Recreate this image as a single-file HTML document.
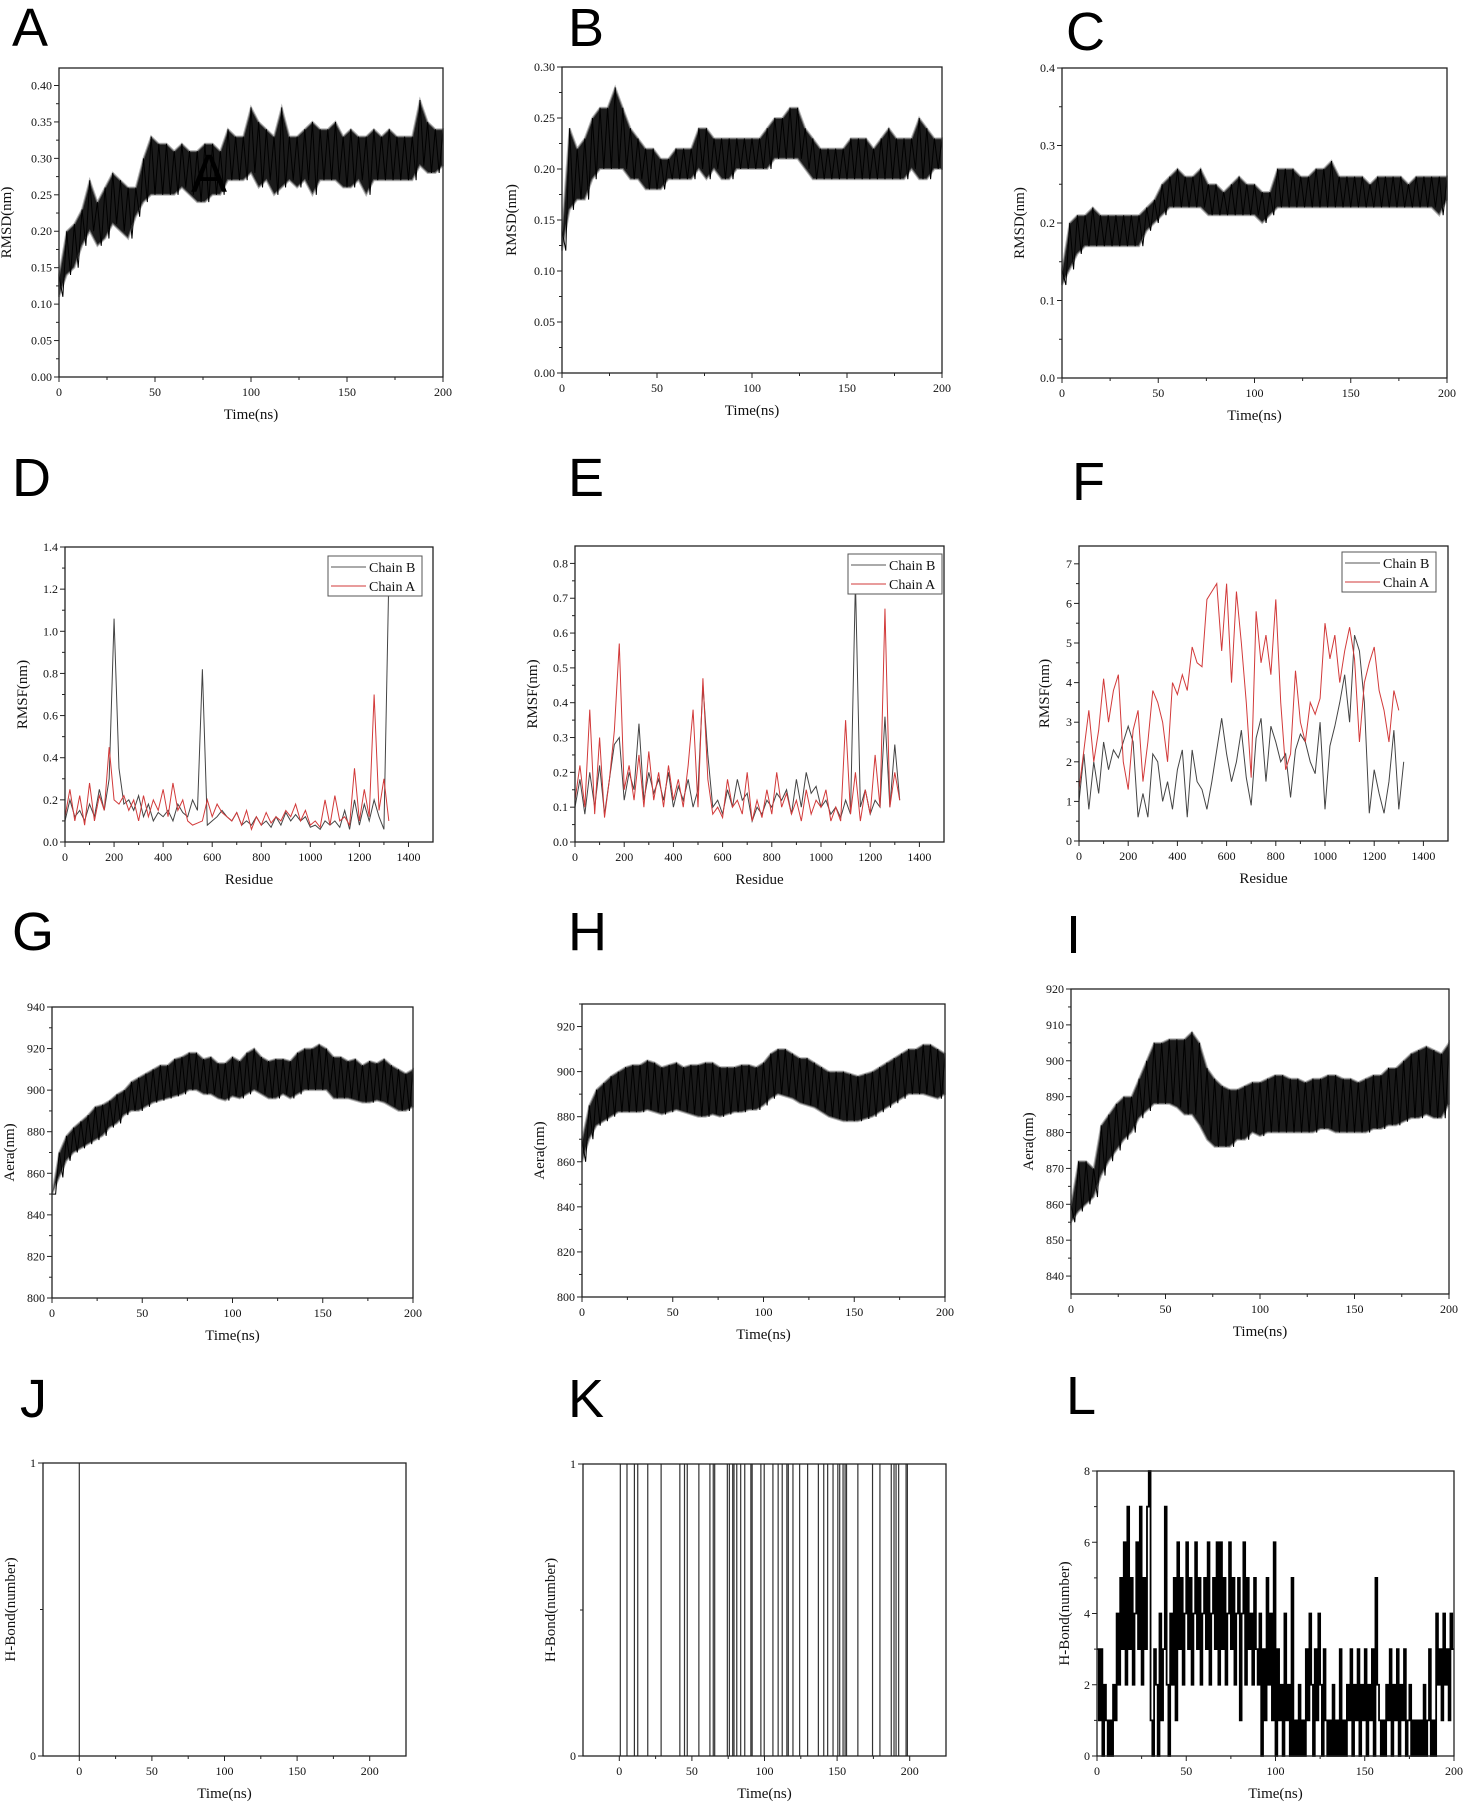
<!DOCTYPE html>
<html><head><meta charset="utf-8">
<style>
html,body{margin:0;padding:0;background:#fff;}
svg{display:block;}
.lt{font-family:"Liberation Sans",sans-serif;font-size:54px;fill:#000;}
.tk{font-family:"Liberation Serif",serif;font-size:12px;fill:#111;}
.ti{font-family:"Liberation Serif",serif;font-size:15px;fill:#111;}
.lg{font-family:"Liberation Serif",serif;font-size:14px;fill:#111;}
</style></head>
<body>
<svg id="fig" width="1469" height="1807" viewBox="0 0 1469 1807" xmlns="http://www.w3.org/2000/svg"></svg>
<script>
const timeStep = 4;
const rmsdA_hi=[0.14,0.20,0.21,0.23,0.27,0.24,0.26,0.28,0.27,0.26,0.26,0.30,0.33,0.32,0.32,0.31,0.32,0.31,0.31,0.32,0.32,0.31,0.34,0.33,0.33,0.37,0.35,0.34,0.33,0.37,0.33,0.33,0.34,0.35,0.34,0.34,0.35,0.33,0.34,0.33,0.33,0.34,0.33,0.34,0.33,0.33,0.33,0.38,0.35,0.34,0.34];
const rmsdA_lo=[0.11,0.14,0.15,0.18,0.20,0.18,0.19,0.21,0.20,0.19,0.22,0.24,0.25,0.25,0.25,0.25,0.26,0.25,0.24,0.24,0.25,0.25,0.27,0.27,0.27,0.28,0.26,0.27,0.25,0.26,0.27,0.26,0.27,0.25,0.27,0.27,0.27,0.26,0.26,0.27,0.25,0.27,0.27,0.27,0.27,0.27,0.27,0.29,0.28,0.28,0.29];
const rmsdB_hi=[0.14,0.24,0.22,0.23,0.25,0.26,0.26,0.28,0.26,0.24,0.23,0.22,0.22,0.21,0.21,0.22,0.22,0.22,0.24,0.24,0.23,0.23,0.23,0.23,0.23,0.23,0.23,0.24,0.25,0.25,0.26,0.26,0.24,0.23,0.22,0.22,0.22,0.22,0.23,0.23,0.23,0.22,0.23,0.24,0.23,0.23,0.23,0.25,0.24,0.23,0.23];
const rmsdB_lo=[0.12,0.16,0.17,0.17,0.19,0.20,0.20,0.20,0.20,0.19,0.19,0.18,0.18,0.18,0.19,0.19,0.19,0.19,0.20,0.19,0.20,0.19,0.19,0.20,0.20,0.20,0.20,0.20,0.21,0.21,0.21,0.21,0.20,0.19,0.19,0.19,0.19,0.19,0.19,0.19,0.19,0.19,0.19,0.19,0.19,0.19,0.20,0.19,0.19,0.20,0.20];
const rmsdC_hi=[0.14,0.20,0.21,0.21,0.22,0.21,0.21,0.21,0.21,0.21,0.21,0.22,0.23,0.25,0.26,0.27,0.26,0.26,0.27,0.25,0.25,0.24,0.25,0.26,0.25,0.25,0.24,0.24,0.27,0.27,0.27,0.26,0.26,0.27,0.27,0.28,0.26,0.26,0.26,0.26,0.25,0.26,0.26,0.26,0.26,0.25,0.26,0.26,0.26,0.26,0.26];
const rmsdC_lo=[0.12,0.14,0.16,0.17,0.17,0.17,0.17,0.17,0.17,0.17,0.17,0.19,0.20,0.21,0.22,0.22,0.22,0.22,0.22,0.21,0.21,0.21,0.21,0.21,0.21,0.21,0.20,0.21,0.22,0.22,0.22,0.22,0.22,0.22,0.22,0.22,0.22,0.22,0.22,0.22,0.22,0.22,0.22,0.22,0.22,0.22,0.22,0.22,0.22,0.21,0.23];
const areaG_hi=[850,870,878,882,885,888,892,893,895,898,900,904,906,908,910,912,912,915,916,918,918,915,916,913,913,916,914,918,920,916,914,915,915,914,918,920,920,922,920,916,916,914,915,912,914,913,915,912,910,908,910];
const areaG_lo=[850,858,866,870,872,874,876,878,882,884,888,890,890,892,894,895,896,897,898,900,900,898,898,896,895,897,896,898,900,898,896,896,898,896,898,900,900,900,900,896,896,896,895,894,894,895,894,892,890,890,892];
const areaH_hi=[870,885,892,895,898,900,902,903,903,905,904,902,903,904,902,903,903,904,904,902,902,902,903,903,902,904,908,910,910,908,906,906,904,902,900,900,900,899,898,899,900,902,904,906,908,910,910,912,912,910,908];
const areaH_lo=[860,870,876,878,880,882,882,882,882,883,882,881,882,883,882,881,880,880,881,880,881,882,882,883,883,885,888,890,889,888,886,885,884,882,880,879,878,878,878,879,880,882,884,886,888,890,890,890,889,888,890];
const areaI_hi=[860,872,872,870,882,885,888,890,890,895,900,905,905,906,906,906,908,905,898,895,893,892,892,893,894,894,895,896,896,895,895,894,895,895,896,896,895,895,894,895,896,896,898,898,900,902,903,904,903,902,905];
const areaI_lo=[855,858,860,862,868,872,875,878,880,884,886,888,888,888,887,885,885,882,878,876,876,876,878,878,880,879,880,880,880,880,880,880,880,881,881,880,880,880,880,880,881,881,882,882,883,884,884,885,884,884,888];
const residueStep = 20;
const rmsfD_B=[0.10,0.20,0.12,0.15,0.10,0.18,0.12,0.25,0.15,0.30,1.06,0.35,0.18,0.20,0.15,0.22,0.12,0.18,0.10,0.14,0.12,0.15,0.10,0.18,0.14,0.12,0.20,0.15,0.82,0.08,0.10,0.12,0.15,0.12,0.10,0.14,0.08,0.10,0.08,0.12,0.08,0.10,0.07,0.12,0.08,0.14,0.10,0.13,0.10,0.12,0.07,0.08,0.06,0.10,0.08,0.10,0.07,0.15,0.06,0.20,0.08,0.18,0.10,0.20,0.12,0.06,1.26];
const rmsfD_A=[0.12,0.25,0.10,0.22,0.08,0.28,0.10,0.22,0.15,0.45,0.20,0.18,0.22,0.15,0.20,0.10,0.22,0.12,0.20,0.15,0.25,0.12,0.28,0.15,0.20,0.10,0.08,0.09,0.10,0.20,0.12,0.18,0.14,0.12,0.10,0.14,0.08,0.15,0.06,0.12,0.08,0.14,0.09,0.12,0.10,0.15,0.12,0.18,0.10,0.15,0.08,0.10,0.07,0.20,0.08,0.22,0.10,0.12,0.08,0.35,0.10,0.25,0.12,0.70,0.15,0.30,0.10];
const rmsfE_B=[0.10,0.18,0.08,0.20,0.10,0.22,0.08,0.18,0.28,0.30,0.12,0.20,0.15,0.34,0.12,0.20,0.14,0.18,0.12,0.20,0.10,0.16,0.12,0.18,0.10,0.15,0.45,0.25,0.10,0.12,0.08,0.15,0.10,0.18,0.12,0.14,0.06,0.10,0.08,0.12,0.10,0.14,0.12,0.15,0.08,0.18,0.10,0.20,0.14,0.16,0.10,0.12,0.08,0.10,0.07,0.12,0.08,0.75,0.10,0.15,0.08,0.12,0.10,0.36,0.10,0.28,0.12];
const rmsfE_A=[0.12,0.22,0.10,0.38,0.08,0.30,0.07,0.18,0.32,0.57,0.15,0.22,0.12,0.25,0.10,0.26,0.12,0.20,0.10,0.22,0.12,0.18,0.10,0.22,0.38,0.10,0.47,0.18,0.08,0.10,0.07,0.18,0.10,0.12,0.08,0.20,0.06,0.12,0.07,0.15,0.08,0.20,0.10,0.14,0.08,0.12,0.06,0.15,0.08,0.12,0.10,0.15,0.06,0.10,0.06,0.35,0.08,0.20,0.06,0.15,0.08,0.25,0.10,0.67,0.10,0.20,0.12];
const rmsfF_B=[1.0,2.2,0.8,2.0,1.2,2.5,1.8,2.3,2.1,2.5,2.9,2.5,0.6,1.2,0.6,2.2,2.0,1.0,1.5,0.8,1.8,2.3,0.6,2.3,1.5,1.3,0.8,1.5,2.3,3.1,2.2,1.5,2.0,2.8,1.6,0.9,2.6,3.1,1.5,2.9,2.5,2.0,2.2,1.1,2.3,2.7,2.5,2.0,1.7,3.0,0.8,2.4,2.9,3.5,4.2,3.0,5.2,4.8,3.5,0.7,1.8,1.2,0.7,1.5,2.8,0.8,2.0];
const rmsfF_A=[1.3,2.3,3.3,2.0,2.8,4.1,3.0,3.8,4.2,2.0,1.3,2.8,3.3,1.5,2.5,3.8,3.5,3.0,2.0,4.0,3.7,4.2,3.8,4.9,4.5,4.4,6.1,6.3,6.5,4.8,6.5,4.0,6.3,5.0,3.5,1.6,5.8,4.5,5.2,4.2,6.1,3.5,1.8,2.2,4.3,3.0,2.5,3.5,3.2,3.6,5.5,4.6,5.2,4.0,4.8,5.4,4.6,2.5,4.0,4.5,4.9,3.8,3.3,2.5,3.8,3.3];
const hbJ_times=[0];
const hbK_times=[0.7,5.3,10.4,12.7,19.6,28.8,41.7,44.9,46.8,54.8,62.4,64.7,65.7,74.4,75.8,78.1,79,80.9,83.6,86.4,90.6,91.5,97.5,99.8,105.8,109.4,112.2,115.4,116.4,119.6,124.2,129.7,137.1,140.8,143.5,147.2,150.5,151.8,154.1,155.5,156.5,164.3,174.4,179.5,187.3,189.2,190.6,192.4,197.5,198.4];
const hbL_counts=[3,1,3,0,2,1,0,1,0,2, 1,4,2,5,3,6,2,7,3,5, 2,4,6,3,7,2,5,3,7,8, 1,0,3,2,0,4,1,3,7,2, 0,4,2,5,1,6,3,5,2,4, 6,3,5,2,4,6,3,5,2,4, 5,3,6,2,4,5,3,6,2,6, 3,5,2,4,6,3,5,2,4,5, 1,4,6,2,5,3,4,2,5,3, 2,4,0,3,1,5,2,4,1,6, 0,3,1,2,0,4,1,2,0,5, 0,1,0,2,0,1,0,3,1,4, 2,0,3,1,4,2,0,3,1,0, 1,0,2,0,1,0,3,0,1,0, 2,1,3,0,2,1,3,0,2,1, 3,0,2,1,3,0,5,2,1,0, 1,0,2,1,3,0,2,1,3,0, 2,1,3,0,1,2,0,1,0,1, 0,1,0,2,0,1,3,0,1,0, 4,2,3,1,4,2,3,1,4,3];
const timeTicks=[0,50,100,150,200];
const residueTicks=[0,200,400,600,800,1000,1200,1400];

const svg=document.getElementById('fig');
const NS='http://www.w3.org/2000/svg';
function mk(tag,attrs,parent){const e=document.createElementNS(NS,tag);for(const k in attrs)e.setAttribute(k,attrs[k]);(parent||svg).appendChild(e);return e;}

function panel(c){
  const g=mk('g',{});
  
  
  const X=v=>c.x0+(v-c.xmin)/(c.xmax-c.xmin)*(c.x1-c.x0);
  const Y=v=>c.y1-(v-c.ymin)/(c.ymax-c.ymin)*(c.y1-c.y0);
  const L=mk('text',{x:c.lx,y:c.ly,class:'lt'},g);L.textContent=c.letter;
  
  
  const plot=mk('g',{},g);
  
  
  c.draw(plot,X,Y);
  const fr=mk('rect',{x:c.x0,y:c.y0,width:c.x1-c.x0,height:c.y1-c.y0,fill:'none',stroke:'#222','stroke-width':1.3},g);
  
  
  c.yt.forEach((v,i)=>{const y=Y(v);mk('line',{x1:c.x0-5,x2:c.x0,y1:y,y2:y,stroke:'#222'},g);
    const t=mk('text',{x:c.x0-7,y:y+4,class:'tk','text-anchor':'end'},g);t.textContent=c.yl?c.yl[i]:v;
    
    });
  if(c.ym){c.ym.forEach(v=>{const y=Y(v);mk('line',{x1:c.x0-3,x2:c.x0,y1:y,y2:y,stroke:'#222'},g);});}
  c.xt.forEach(v=>{const x=X(v);mk('line',{x1:x,x2:x,y1:c.y1,y2:c.y1+5,stroke:'#222'},g);
    const t=mk('text',{x:x,y:c.y1+19,class:'tk','text-anchor':'middle'},g);t.textContent=v;
    
    });
  for(let i=0;i<c.xt.length-1;i++){const x=X((c.xt[i]+c.xt[i+1])/2);mk('line',{x1:x,x2:x,y1:c.y1,y2:c.y1+3,stroke:'#222'},g);}
  const xt=mk('text',{x:(c.x0+c.x1)/2,y:c.y1+42,class:'ti','text-anchor':'middle'},g);xt.textContent=c.xtitle;
  
  
  const yx=c.x0-(c.ytoff||44), yy=(c.y0+c.y1)/2;
  const yt=mk('text',{x:yx,y:yy,class:'ti','text-anchor':'middle',transform:`rotate(-90 ${yx} ${yy})`},g);yt.textContent=c.ytitle;
  
  
  if(c.legend){const [lx,ly]=c.legend;
    const lg=mk('g',{},g);
    
    
    mk('rect',{x:lx,y:ly,width:94,height:40,fill:'#fff',stroke:'#555','stroke-width':1},lg);
    [['Chain B','#555'],['Chain A','#d23a3a']].forEach((e,i)=>{
      mk('line',{x1:lx+3,x2:lx+38,y1:ly+11+i*19,y2:ly+11+i*19,stroke:e[1],'stroke-width':1},lg);
      const t=mk('text',{x:lx+41,y:ly+16+i*19,class:'lg'},lg);t.textContent=e[0];
      
      });}
}
function band(hi,lo){return (p,X,Y)=>{
  let poly=[];hi.forEach((v,i)=>poly.push(X(i*timeStep)+','+Y(v)));
  for(let i=lo.length-1;i>=0;i--)poly.push(X(i*timeStep)+','+Y(lo[i]));
  const b=mk('polygon',{points:poly.join(' '),fill:'#1a1a1a',stroke:'#888','stroke-width':2,'stroke-opacity':0.6},p);
  
  
  let z=[];hi.forEach((v,i)=>{const x=X(i*timeStep);z.push(x+','+Y(v));if(i<hi.length-1)z.push((x+(X(timeStep)-X(0))/2)+','+Y(lo[i]));});
  const l=mk('polyline',{points:z.join(' '),fill:'none',stroke:'#000','stroke-width':1},p);
  
  
};}
function rmsf(b,a){return (p,X,Y)=>{
  [[b,'#444','chain-b-line'],[a,'#d23a3a','chain-a-line']].forEach(s=>{
    const pts=s[0].map((v,i)=>X(i*residueStep)+','+Y(v)).join(' ');
    const l=mk('polyline',{points:pts,fill:'none',stroke:s[1],'stroke-width':1},p);
    
    });
};}
function vlines(times){return (p,X,Y)=>{times.forEach(t=>{
  const l=mk('line',{x1:X(t),x2:X(t),y1:Y(0),y2:Y(1),stroke:'#333','stroke-width':1.2},p);
  
  });};}
function steps(vals){return (p,X,Y)=>{let z=[];vals.forEach((v,i)=>{z.push(X(i)+','+Y(v));z.push(X(i+1)+','+Y(v));});
  const l=mk('polyline',{points:z.join(' '),fill:'none',stroke:'#000','stroke-width':1.8},p);
  
  };}
const rng=(a,b,s)=>{const r=[];for(let v=a;v<=b+1e-9;v+=s)r.push(+v.toFixed(3));return r;};

panel({name:'panel-a-rmsd',letter:'A',lx:12,ly:46,x0:59,x1:443,y0:68,y1:377,xmin:0,xmax:200,ymin:0,ymax:0.424,
  yt:rng(0,0.4,0.05),yl:rng(0,0.4,0.05).map(v=>v.toFixed(2)),ym:rng(0.025,0.4,0.05),xt:timeTicks,xtitle:'Time(ns)',ytitle:'RMSD(nm)',ytoff:48,draw:band(rmsdA_hi,rmsdA_lo)});
const stray=mk('text',{x:191,y:192,class:'lt','font-size':'46'});stray.textContent='A';


panel({name:'panel-b-rmsd',letter:'B',lx:568,ly:46,x0:562,x1:942,y0:67,y1:373,xmin:0,xmax:200,ymin:0,ymax:0.30,
  yt:rng(0,0.3,0.05),yl:rng(0,0.3,0.05).map(v=>v.toFixed(2)),ym:rng(0.025,0.3,0.05),xt:timeTicks,xtitle:'Time(ns)',ytitle:'RMSD(nm)',ytoff:46,draw:band(rmsdB_hi,rmsdB_lo)});
panel({name:'panel-c-rmsd',letter:'C',lx:1066,ly:50,x0:1062,x1:1447,y0:68,y1:378,xmin:0,xmax:200,ymin:0,ymax:0.4,
  yt:rng(0,0.4,0.1),yl:rng(0,0.4,0.1).map(v=>v.toFixed(1)),ym:rng(0.05,0.4,0.1),xt:timeTicks,xtitle:'Time(ns)',ytitle:'RMSD(nm)',ytoff:38,draw:band(rmsdC_hi,rmsdC_lo)});
panel({name:'panel-d-rmsf',letter:'D',lx:12,ly:496,x0:65,x1:433,y0:547,y1:842,xmin:0,xmax:1500,ymin:0,ymax:1.4,
  yt:rng(0,1.4,0.2),yl:rng(0,1.4,0.2).map(v=>v.toFixed(1)),ym:rng(0.1,1.4,0.2),xt:residueTicks,xtitle:'Residue',ytitle:'RMSF(nm)',ytoff:38,legend:[328,556],draw:rmsf(rmsfD_B,rmsfD_A)});
panel({name:'panel-e-rmsf',letter:'E',lx:568,ly:496,x0:575,x1:944,y0:546,y1:842,xmin:0,xmax:1500,ymin:0,ymax:0.85,
  yt:rng(0,0.8,0.1),yl:rng(0,0.8,0.1).map(v=>v.toFixed(1)),ym:rng(0.05,0.8,0.1),xt:residueTicks,xtitle:'Residue',ytitle:'RMSF(nm)',ytoff:38,legend:[848,554],draw:rmsf(rmsfE_B,rmsfE_A)});
panel({name:'panel-f-rmsf',letter:'F',lx:1072,ly:500,x0:1079,x1:1448,y0:546,y1:841,xmin:0,xmax:1500,ymin:0,ymax:7.45,
  yt:rng(0,7,1),ym:rng(0.5,7,1),xt:residueTicks,xtitle:'Residue',ytitle:'RMSF(nm)',ytoff:30,legend:[1342,552],draw:rmsf(rmsfF_B,rmsfF_A)});
panel({name:'panel-g-area',letter:'G',lx:12,ly:950,x0:52,x1:413,y0:1007,y1:1298,xmin:0,xmax:200,ymin:800,ymax:940,
  yt:rng(800,940,20),ym:rng(810,940,20),xt:timeTicks,xtitle:'Time(ns)',ytitle:'Aera(nm)',ytoff:38,draw:band(areaG_hi,areaG_lo)});
panel({name:'panel-h-area',letter:'H',lx:568,ly:950,x0:582,x1:945,y0:1004,y1:1297,xmin:0,xmax:200,ymin:800,ymax:930,
  yt:rng(800,920,20),ym:rng(810,930,20),xt:timeTicks,xtitle:'Time(ns)',ytitle:'Aera(nm)',ytoff:38,draw:band(areaH_hi,areaH_lo)});
panel({name:'panel-i-area',letter:'I',lx:1066,ly:953,x0:1071,x1:1449,y0:989,y1:1294,xmin:0,xmax:200,ymin:835,ymax:920,
  yt:rng(840,920,10),ym:rng(845,920,10),xt:timeTicks,xtitle:'Time(ns)',ytitle:'Aera(nm)',ytoff:38,draw:band(areaI_hi,areaI_lo)});
panel({name:'panel-j-hbond',letter:'J',lx:20,ly:1417,x0:43,x1:406,y0:1463,y1:1756,xmin:-25,xmax:225,ymin:0,ymax:1,
  yt:[0,1],ym:[0.5],xt:timeTicks,xtitle:'Time(ns)',ytitle:'H-Bond(number)',ytoff:28,draw:vlines(hbJ_times)});
panel({name:'panel-k-hbond',letter:'K',lx:568,ly:1417,x0:583,x1:946,y0:1464,y1:1756,xmin:-25,xmax:225,ymin:0,ymax:1,
  yt:[0,1],ym:[0.5],xt:timeTicks,xtitle:'Time(ns)',ytitle:'H-Bond(number)',ytoff:28,draw:vlines(hbK_times)});
panel({name:'panel-l-hbond',letter:'L',lx:1066,ly:1414,x0:1097,x1:1454,y0:1471,y1:1756,xmin:0,xmax:200,ymin:0,ymax:8,
  yt:[0,2,4,6,8],ym:[1,3,5,7],xt:timeTicks,xtitle:'Time(ns)',ytitle:'H-Bond(number)',ytoff:28,draw:steps(hbL_counts)});
</script>
</body></html>
